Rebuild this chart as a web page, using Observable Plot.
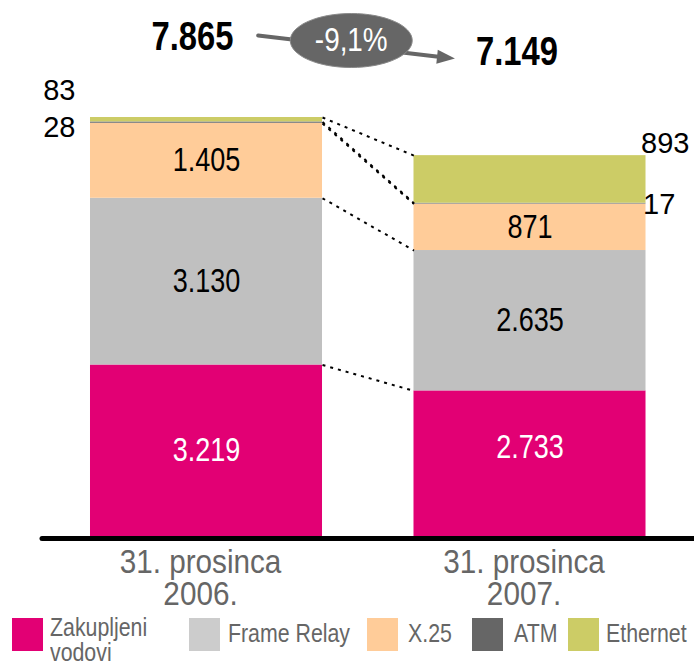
<!DOCTYPE html>
<html>
<head>
<meta charset="utf-8">
<script src="https://cdn.jsdelivr.net/npm/d3@7"></script>
<script src="https://cdn.jsdelivr.net/npm/@observablehq/plot@0.6"></script>
<style>
  html, body { margin: 0; padding: 0; background: #fff; }
  #chart { position: relative; width: 694px; height: 664px; overflow: hidden;
           font-family: "Liberation Sans", Arial, sans-serif; }
  #chart svg { display: block; }
  .sw { position: absolute; top: 618px; width: 31px; height: 33px; }
  .lt { position: absolute; top: 621px; font-size: 26px; line-height: 25px; color: #666;
        white-space: nowrap; transform: scaleX(0.82); transform-origin: 0 0; }
  .lt.two { top: 615px; }
</style>
</head>
<body>
<div id="chart"></div>
<script>
// ---- data ----
const periods = ["31. prosinca\n2006.", "31. prosinca\n2007."];
const series = ["Zakupljeni vodovi", "Frame Relay", "X.25", "ATM", "Ethernet"];
const legendLabels = ["Zakupljeni\nvodovi", "Frame Relay", "X.25", "ATM", "Ethernet"];
const values2006 = [3219, 3130, 1405, 28, 83];
const values2007 = [2733, 2635, 871, 17, 893];
const totals = [7865, 7149];
const changeLabel = "-9,1%";
const barColors = ["#E20074", "#C0C0C0", "#FFCC99", "#808080", "#CCCC66"];
const legendColors = ["#E20074", "#CCCCCC", "#FFCC99", "#666666", "#CCCC66"];

// ---- build tables ----
const fmt = d3.formatLocale({decimal: ",", thousands: ".", grouping: [3], currency: ["", ""]}).format(",d");
const rows = [];
[values2006, values2007].forEach((vals, i) => {
  let c = 0;
  vals.forEach((v, j) => { rows.push({i, j, series: series[j], v, y1: c, y2: c + v}); c += v; });
});
const links = series.map((s, j) => ({
  a: rows.find(d => d.i === 0 && d.j === j).y2,
  b: rows.find(d => d.i === 1 && d.j === j).y2
}));

const hw = 0.3586; // half bar width in x units
// font-family markers: "Arimo" -> condensed to 82%, "Cousine-x" -> condensed to 90% (both fall back to Liberation Sans)
const narrow = 'Arimo, "Liberation Sans", Arial, sans-serif';
const semi = 'Cousine-x, "Liberation Sans", Arial, sans-serif';
const regular = '"Liberation Sans", Arial, sans-serif';

const ellipse = {
  draw(ctx) {
    const rx = 61, ry = 27, k = 0.5523;
    ctx.moveTo(rx, 0);
    ctx.bezierCurveTo(rx, ry * k, rx * k, ry, 0, ry);
    ctx.bezierCurveTo(-rx * k, ry, -rx, ry * k, -rx, 0);
    ctx.bezierCurveTo(-rx, -ry * k, -rx * k, -ry, 0, -ry);
    ctx.bezierCurveTo(rx * k, -ry, rx, -ry * k, rx, 0);
    ctx.closePath();
  }
};
const head = {
  draw(ctx) {
    ctx.moveTo(9, 0);
    ctx.lineTo(-9, -7);
    ctx.lineTo(-9, 7);
    ctx.closePath();
  }
};

const one = [0];

const plot = Plot.plot({
  width: 694,
  height: 616,
  marginLeft: 42, marginRight: 0, marginTop: 0, marginBottom: 0,
  style: {fontFamily: regular, background: "transparent", overflow: "visible"},
  x: {type: "linear", domain: [0, 1], range: [206, 529.5], axis: null},
  y: {domain: [0, totals[0]], range: [536, 117], axis: null},
  color: {domain: series, range: barColors},
  marks: [
    Plot.rect(rows, {x1: d => d.i - hw, x2: d => d.i + hw, y1: "y1", y2: "y2", fill: "series"}),
    Plot.link(links, {x1: () => hw, x2: () => 1 - hw, y1: "a", y2: "b",
      stroke: "black", strokeWidth: 2, strokeDasharray: "3,5"}),
    // in-bar labels
    Plot.text(rows.filter(d => d.j === 0 && d.i === 0), {x: "i", y: d => (d.y1 + d.y2) / 2, text: d => fmt(d.v),
      fill: "white", fontSize: 33, fontFamily: narrow}),
    Plot.text(rows.filter(d => d.j === 0 && d.i === 1), {x: "i", y: d => (d.y1 + d.y2) / 2, text: d => fmt(d.v),
      fill: "white", fontSize: 33, dy: -16, fontFamily: narrow}),
    Plot.text(rows.filter(d => d.j > 0 && d.j < 3), {x: "i", y: d => (d.y1 + d.y2) / 2, text: d => fmt(d.v),
      fill: "black", fontSize: 33, fontFamily: narrow}),
    // outside labels, 2006
    Plot.text(rows.filter(d => d.i === 0 && d.j === 4), {x: d => d.i - hw, y: "y2", text: d => fmt(d.v),
      textAnchor: "end", dx: -15, dy: -27, fontSize: 29, fontFamily: regular, fill: "black"}),
    Plot.text(rows.filter(d => d.i === 0 && d.j === 3), {x: d => d.i - hw, y: d => (d.y1 + d.y2) / 2, text: d => fmt(d.v),
      textAnchor: "end", dx: -15, dy: 5, fontSize: 29, fontFamily: regular, fill: "black"}),
    // outside labels, 2007
    Plot.text(rows.filter(d => d.i === 1 && d.j === 4), {x: d => d.i + hw, y: "y2", text: d => fmt(d.v),
      textAnchor: "start", dx: -5, dy: -12, fontSize: 29, fontFamily: regular, fill: "black"}),
    Plot.text(rows.filter(d => d.i === 1 && d.j === 3), {x: d => d.i + hw, y: d => (d.y1 + d.y2) / 2, text: d => fmt(d.v),
      textAnchor: "start", dx: -3, dy: 1, fontSize: 29, fontFamily: regular, fill: "black"}),
    // baseline
    Plot.ruleY([0], {stroke: "black", strokeWidth: 5, dy: 2, strokeLinecap: "round"}),
    // category labels
    Plot.text(periods, {x: (d, i) => i, y: () => 0, text: d => d, dx: -6, dy: 42,
      lineAnchor: "middle", lineHeight: 0.97, fontSize: 33, fill: "#666", fontFamily: semi}),
    // header: change arrow, ellipse and totals
    Plot.arrow(one, {x1: () => 0, y1: () => totals[0], x2: () => 1, y2: () => totals[1],
      dy: -88, insetStart: 52, insetEnd: 90, stroke: "#666", strokeWidth: 4, headLength: 0}),
    Plot.dot(one, {x: () => 1, y: () => totals[1], dx: -84, dy: -98, symbol: head, r: 1,
      rotate: 6, fill: "#666", stroke: "none"}),
    Plot.dot(one, {x: () => 0.5, y: () => totals[0], dx: -17, dy: -77, symbol: ellipse, r: 1,
      fill: "#666", stroke: "#8a8a8a", strokeWidth: 1}),
    Plot.text(one, {x: () => 0.5, y: () => totals[0], dx: -17, dy: -77, text: () => changeLabel,
      fill: "white", fontSize: 34, fontFamily: narrow}),
    Plot.text([totals[0]], {x: () => 0, y: d => d, text: d => fmt(d), dx: -14, dy: -80,
      fontSize: 40, fontWeight: "bold", fill: "black", fontFamily: narrow}),
    Plot.text([totals[1]], {x: () => 1, y: d => d, text: d => fmt(d), dx: -13, dy: -103,
      fontSize: 40, fontWeight: "bold", fill: "black", fontFamily: narrow})
  ]
});

// condense the texts that stand for a narrow typeface (horizontal scale only)
function squeeze(sel, k) {
  plot.querySelectorAll(sel).forEach(t => {
    const tr = t.getAttribute("transform") || "";
    t.setAttribute("transform", tr + ` scale(${k},1)`);
  });
}
squeeze('g[font-family^="Arimo"] > text', 0.82);
squeeze('g[font-family^="Cousine-x"] > text', 0.9);

const chart = document.getElementById("chart");
chart.appendChild(plot);

// legend (HTML below the SVG)
const swLeft = [12, 189, 367, 472, 568];
const txLeft = [50, 228, 408, 514, 606];
legendLabels.forEach((lab, j) => {
  const sw = document.createElement("div");
  sw.className = "sw";
  sw.style.left = swLeft[j] + "px";
  sw.style.background = legendColors[j];
  chart.appendChild(sw);
  const t = document.createElement("div");
  t.className = "lt" + (lab.includes("\n") ? " two" : "");
  t.style.left = txLeft[j] + "px";
  t.innerHTML = lab.split("\n").join("<br>");
  chart.appendChild(t);
});
</script>
</body>
</html>
